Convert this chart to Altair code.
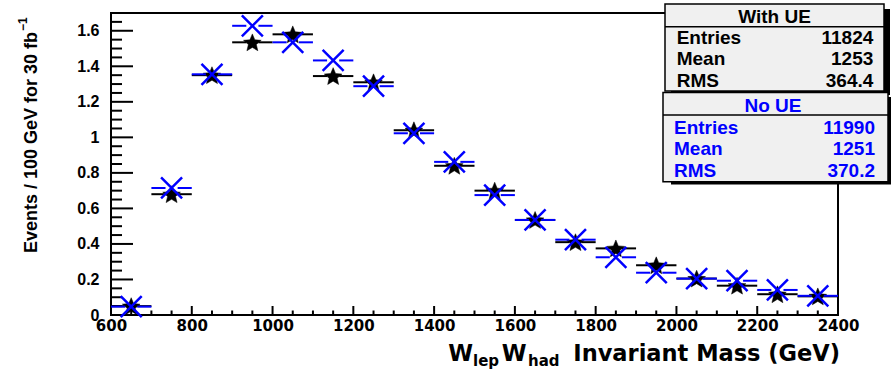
import altair as alt
import pandas as pd

# Invariant-mass histogram, 100 GeV bins, normalised to 30 fb^-1
bin_centers = [650, 750, 850, 950, 1050, 1150, 1250, 1350, 1450,
               1550, 1650, 1750, 1850, 1950, 2050, 2150, 2250, 2350]
with_ue = [0.05, 0.68, 1.35, 1.535, 1.58, 1.345, 1.31, 1.04, 0.84,
           0.70, 0.535, 0.41, 0.375, 0.28, 0.205, 0.165, 0.117, 0.105]
no_ue = [0.047, 0.715, 1.355, 1.628, 1.535, 1.433, 1.288, 1.023, 0.862,
         0.675, 0.535, 0.424, 0.325, 0.238, 0.205, 0.193, 0.141, 0.108]
bin_width = 100

# Axis ranges, ticks and labels
x_range = [600, 2400]
y_range = [0, 1.7]
x_major = [600, 800, 1000, 1200, 1400, 1600, 1800, 2000, 2200, 2400]
x_minor = [650, 700, 750, 850, 900, 950, 1050, 1100, 1150, 1250, 1300, 1350,
           1450, 1500, 1550, 1650, 1700, 1750, 1850, 1900, 1950, 2050, 2100,
           2150, 2250, 2300, 2350]
y_major = [0, 0.2, 0.4, 0.6, 0.8, 1.0, 1.2, 1.4, 1.6]
y_minor = [0.05, 0.1, 0.15, 0.25, 0.3, 0.35, 0.45, 0.5, 0.55, 0.65, 0.7, 0.75,
           0.85, 0.9, 0.95, 1.05, 1.1, 1.15, 1.25, 1.3, 1.35, 1.45, 1.5, 1.55,
           1.65]

# Statistics boxes
stat_names = ["Entries", "Mean", "RMS"]
with_ue_stats = ["11824", "1253", "364.4"]
no_ue_stats = ["11990", "1251", "370.2"]

BLUE = "#0000ff"
FONT = "Liberation Sans"
WIDE_FONT = "DejaVu Sans"
W, H = 727, 302
LEFT, TOP = 111, 13

xs = alt.Scale(domain=x_range, nice=False, zero=False)
ys = alt.Scale(domain=y_range, nice=False, zero=False)
x_axis = alt.Axis(values=x_major, format="d", title=None, grid=False, domain=False,
                  ticks=False, labelPadding=3, labelFont=WIDE_FONT, labelFontSize=15,
                  labelFontWeight="bold", labelColor="black", labelFlush=False,
                  labelOverlap=False)
y_axis = alt.Axis(values=y_major, format="~g", title=None, grid=False, domain=False,
                  ticks=False, labelPadding=12, labelFont=FONT, labelFontSize=16,
                  labelFontWeight="bold", labelColor="black", labelFlush=False,
                  labelOverlap=False)


def X(field):
    return alt.X(field, type="quantitative", scale=xs, axis=x_axis)


def Y(field):
    return alt.Y(field, type="quantitative", scale=ys, axis=y_axis)


def error_segments(values, gap):
    rows = []
    for c, v in zip(bin_centers, values):
        rows.append({"a": c - bin_width / 2, "b": c - gap, "v": v})
        rows.append({"a": c + gap, "b": c + bin_width / 2, "v": v})
    return pd.DataFrame(rows)


hist = pd.DataFrame({"m": bin_centers, "with_ue": with_ue, "no_ue": no_ue})
one = pd.DataFrame({"k": [0]})

STAR = ("M0,-0.9045L0.2645,-0.2686L0.9511,-0.2135L0.428,0.2345L0.5878,0.9045"
        "L0,0.5455L-0.5878,0.9045L-0.428,0.2345L-0.9511,-0.2135L-0.2645,-0.2686Z")
XMARK = "M-1,-1L1,1M-1,1L1,-1"

# Frame around the plot area
frame = alt.Chart(pd.DataFrame({"x0": [x_range[0]], "x1": [x_range[1]],
                                "y0": [y_range[0]], "y1": [y_range[1]]})).mark_rect(
    fillOpacity=0, stroke="black", strokeWidth=2).encode(
    x=X("x0"), x2="x1", y=Y("y0"), y2="y1")

# Inward-pointing ticks
y_major_ticks = alt.Chart(pd.DataFrame({"t": y_major})).mark_rule(
    color="black", strokeWidth=2).encode(y=Y("t"), x=alt.value(0), x2=alt.value(22))
y_minor_ticks = alt.Chart(pd.DataFrame({"t": y_minor})).mark_rule(
    color="black", strokeWidth=2).encode(y=Y("t"), x=alt.value(0), x2=alt.value(11))
x_major_ticks = alt.Chart(pd.DataFrame({"t": x_major})).mark_rule(
    color="black", strokeWidth=2).encode(x=X("t"), y=alt.value(H), y2=alt.value(H - 9))
x_minor_ticks = alt.Chart(pd.DataFrame({"t": x_minor})).mark_rule(
    color="black", strokeWidth=2).encode(x=X("t"), y=alt.value(H), y2=alt.value(H - 4.5))

# Histograms: horizontal bin-width bars plus markers
black_bars = alt.Chart(error_segments(with_ue, 15)).mark_rule(
    color="black", strokeWidth=2).encode(x=X("a"), x2="b", y=Y("v"))
black_stars = alt.Chart(hist).mark_point(
    shape=STAR, size=346, filled=True, fill="black", stroke="black",
    strokeWidth=0.5, opacity=1).encode(x=X("m"), y=Y("with_ue"))
blue_bars = alt.Chart(error_segments(no_ue, 15)).mark_rule(
    color=BLUE, strokeWidth=2).encode(x=X("a"), x2="b", y=Y("v"))
blue_x = alt.Chart(hist).mark_point(
    shape=XMARK, size=441, filled=False, stroke=BLUE, strokeWidth=2.5,
    opacity=1).encode(x=X("m"), y=Y("no_ue"))


def text(t, x, y, size=19, color="black", align="left", font=FONT, angle=0):
    kw = dict(font=font, fontSize=size, fontWeight="bold", color=color,
              align=align, baseline="alphabetic")
    if angle:
        kw["angle"] = angle
    return alt.Chart(one).mark_text(**kw).encode(
        x=alt.value(x - LEFT), y=alt.value(y - TOP), text=alt.value(t))


def box(x1, y1, x2, y2, fill, stroke="black", sw=1.5):
    return alt.Chart(one).mark_rect(fill=fill, stroke=stroke, strokeWidth=sw).encode(
        x=alt.value(x1 - LEFT), x2=alt.value(x2 - LEFT),
        y=alt.value(y1 - TOP), y2=alt.value(y2 - TOP))


def line(x1, x2, y):
    return alt.Chart(one).mark_rule(color="black", strokeWidth=1.5).encode(
        x=alt.value(x1 - LEFT), x2=alt.value(x2 - LEFT), y=alt.value(y - TOP))


layers = [frame, y_major_ticks, y_minor_ticks, x_major_ticks, x_minor_ticks,
          black_bars, black_stars, blue_bars, blue_x]

# "With UE" statistics box
layers += [box(671, 9, 890, 95, "black", sw=0), box(665, 4, 884, 91, "#f0f0f0"),
           line(665, 884, 26.7), text("With UE", 774.5, 23, align="center")]
for i, (n, v) in enumerate(zip(stat_names, with_ue_stats)):
    yb = 44 + i * 21.35
    layers += [text(n, 676.7, yb), text(v, 873.3, yb, align="right")]

# "No UE" statistics box
layers += [box(671, 97, 891, 184.5, "black", sw=0), box(663, 92.5, 888, 181.7, "#f0f0f0"),
           line(663, 888, 115), text("No UE", 773, 111.7, color=BLUE, align="center")]
for i, (n, v) in enumerate(zip(stat_names, no_ue_stats)):
    yb = 134 + i * 21.35
    layers += [text(n, 674, yb, color=BLUE), text(v, 875, yb, color=BLUE, align="right")]

# Axis titles with sub/superscripts
layers += [
    text("W", 448.3, 361, size=22.5, font=WIDE_FONT),
    text("lep", 473, 366, size=15, font=WIDE_FONT),
    text("W", 501.7, 361, size=22.5, font=WIDE_FONT),
    text("had", 528, 366, size=15, font=WIDE_FONT),
    text("Invariant Mass (GeV)", 573.3, 361, size=22.5, font=WIDE_FONT),
    text("Events / 100 GeV for 30 fb", 37, 32, size=18, align="right", angle=270),
    text("\u22121", 27, 31, size=12, align="left", angle=270),
]

chart = alt.layer(*layers).properties(
    width=W, height=H,
    padding={"left": LEFT, "top": TOP, "right": 892 - LEFT - W, "bottom": 371 - TOP - H},
    autosize="none",
).configure_view(stroke=None).configure(background="white")

chart.save("out.html", embed_options={"renderer": "svg", "actions": False})
